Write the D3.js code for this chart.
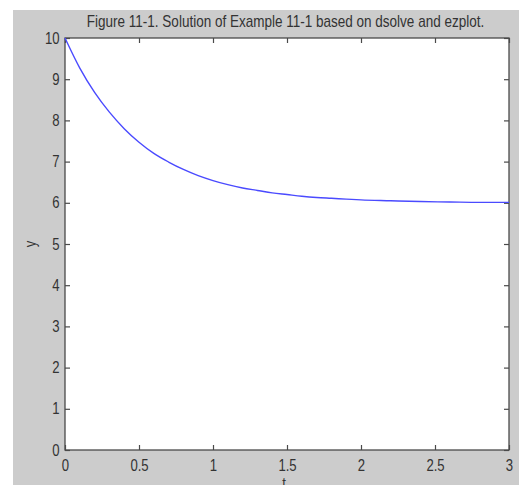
<!DOCTYPE html>
<html>
<head>
<meta charset="utf-8">
<script src="https://cdn.jsdelivr.net/npm/d3@7"></script>
<style>
  html, body { margin: 0; padding: 0; background: #ffffff; }
  svg { display: block; }
  text { font-family: "Liberation Sans", Arial, sans-serif; fill: #333333; }
</style>
</head>
<body>
<svg id="chart" width="519" height="485"></svg>
<script>
// Solution y(t) sampled along t
const tValues = [0, 0.1, 0.2, 0.3, 0.4, 0.5, 0.6, 0.7, 0.8, 0.9, 1.0, 1.1, 1.2, 1.3, 1.4, 1.5, 1.6, 1.7, 1.8, 1.9, 2.0, 2.2, 2.4, 2.6, 2.8, 3.0];
const yValues = [10, 9.27, 8.68, 8.20, 7.80, 7.47, 7.20, 6.99, 6.81, 6.66, 6.54, 6.44, 6.36, 6.30, 6.24, 6.20, 6.16, 6.13, 6.11, 6.09, 6.07, 6.05, 6.03, 6.02, 6.01, 6.01];

const xTicks = [0, 0.5, 1, 1.5, 2, 2.5, 3];
const yTicks = [0, 1, 2, 3, 4, 5, 6, 7, 8, 9, 10];

const titleText = "Figure 11-1. Solution of Example 11-1 based on dsolve and ezplot.";
const xLabel = "t";
const yLabel = "y";

// condensed lettering: regular face squeezed horizontally
const squeeze = 0.82;
const titleSqueeze = 0.845;
const fontSize = 16;

const svg = d3.select("#chart");

// figure background
svg.append("rect")
  .attr("x", 13).attr("y", 10)
  .attr("width", 506).attr("height", 475)
  .attr("fill", "#cccccc");

const plot = { left: 65, top: 38, right: 509, bottom: 450 };

const x = d3.scaleLinear().domain([0, 3]).range([plot.left, plot.right]);
const y = d3.scaleLinear().domain([0, 10]).range([plot.bottom, plot.top]);

// axes box
svg.append("rect")
  .attr("x", plot.left).attr("y", plot.top)
  .attr("width", plot.right - plot.left).attr("height", plot.bottom - plot.top)
  .attr("fill", "#ffffff")
  .attr("stroke", "#4a4a4a").attr("stroke-width", 1.3);

const tickLen = 5;
const axisStyle = g => {
  g.select(".domain").remove();
  g.selectAll(".tick line").attr("stroke", "#4a4a4a").attr("stroke-width", 1.2);
  g.selectAll(".tick text").attr("font-size", fontSize).attr("fill", "#3a3a3a");
};

// bottom axis with inward ticks
svg.append("g")
  .attr("transform", `translate(0,${plot.bottom})`)
  .call(d3.axisBottom(x).tickValues(xTicks).tickSize(-tickLen).tickFormat(d3.format("")))
  .call(axisStyle)
  .call(g => g.selectAll(".tick text")
    .attr("y", 21).attr("dy", null)
    .attr("transform", `scale(${squeeze},1)`));

// top axis ticks
svg.append("g")
  .attr("transform", `translate(0,${plot.top})`)
  .call(d3.axisTop(x).tickValues(xTicks).tickSize(-tickLen).tickFormat(""))
  .call(axisStyle);

// left axis with inward ticks
svg.append("g")
  .attr("transform", `translate(${plot.left},0)`)
  .call(d3.axisLeft(y).tickValues(yTicks).tickSize(-tickLen).tickFormat(d3.format("")))
  .call(axisStyle)
  .call(g => g.selectAll(".tick text")
    .attr("x", -5.5 / squeeze)
    .attr("transform", `scale(${squeeze},1)`));

// right axis ticks
svg.append("g")
  .attr("transform", `translate(${plot.right},0)`)
  .call(d3.axisRight(y).tickValues(yTicks).tickSize(-tickLen).tickFormat(""))
  .call(axisStyle);

// solution curve
const line = d3.line()
  .x((d, i) => x(tValues[i]))
  .y(d => y(d))
  .curve(d3.curveMonotoneX);

svg.append("path")
  .datum(yValues)
  .attr("d", line)
  .attr("fill", "none")
  .attr("stroke", "#4a4aff")
  .attr("stroke-width", 1.4);

// title
svg.append("text")
  .attr("transform", `translate(285.5,27) scale(${titleSqueeze},1)`)
  .attr("text-anchor", "middle")
  .attr("font-size", fontSize)
  .text(titleText);

// axis labels
svg.append("text")
  .attr("transform", `translate(284,489) scale(${squeeze},1)`)
  .attr("text-anchor", "middle")
  .attr("font-size", fontSize)
  .text(xLabel);

svg.append("text")
  .attr("transform", `translate(36,${y(5)}) rotate(-90) scale(${squeeze},1)`)
  .attr("text-anchor", "middle")
  .attr("font-size", fontSize)
  .text(yLabel);
</script>
</body>
</html>
